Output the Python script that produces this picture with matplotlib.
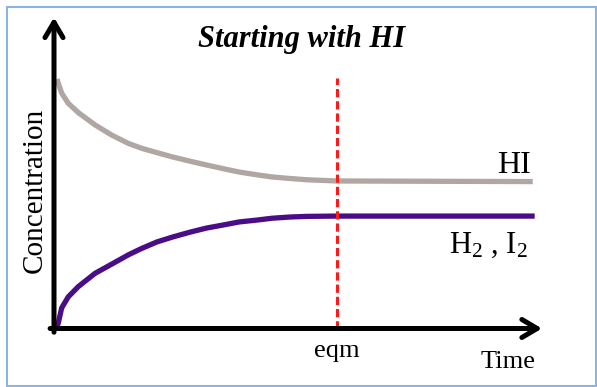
import matplotlib
matplotlib.use('Agg')
import matplotlib.pyplot as plt
from matplotlib.patches import Rectangle

plt.rcParams['font.family'] = ['Liberation Serif', 'DejaVu Serif']
plt.rcParams['mathtext.fontset'] = 'custom'
plt.rcParams['mathtext.rm'] = 'Liberation Serif'
plt.rcParams['mathtext.it'] = 'Liberation Serif:italic'

# values (time in arbitrary units, concentration 0..1)
hi_t = [0.06, 0.088, 0.157, 0.292, 0.496, 0.837, 1.178, 1.516, 1.79, 2.10,
        2.42, 2.78, 3.11, 3.45, 3.78, 4.14, 4.45, 4.82, 5.15, 5.77, 9.77]
hi_c = [0.810, 0.796, 0.764, 0.731, 0.701, 0.661, 0.628, 0.601, 0.585, 0.571,
        0.557, 0.543, 0.531, 0.519, 0.508, 0.499, 0.492, 0.487, 0.483, 0.479,
        0.477]

h2_t = [0.06, 0.088, 0.157, 0.292, 0.496, 0.837, 1.178, 1.516, 1.79, 2.10,
        2.42, 2.78, 3.11, 3.45, 3.78, 4.14, 4.45, 4.82, 5.15, 5.77, 9.81]
h2_c = [0.005, 0.018, 0.067, 0.103, 0.136, 0.179, 0.209, 0.239, 0.260, 0.281,
        0.297, 0.313, 0.326, 0.336, 0.346, 0.352, 0.358, 0.362, 0.364, 0.365,
        0.365]

t_eqm = 5.77
eqm_top = 0.813

fig = plt.figure(figsize=(5.97, 3.87), dpi=100)
fig.patches.append(Rectangle((7 / 597, 1 - 386 / 387), 589 / 597, 379 / 387,
                             transform=fig.transFigure, fill=False,
                             edgecolor='#8db3e2', lw=1.5))

ax = fig.add_axes([54 / 597, 1 - 328.5 / 387, 490 / 597, 308 / 387])
ax.set_xlim(0, 10)
ax.set_ylim(0, 1)
ax.axis('off')

ax.plot(hi_t, hi_c, color='#b0a6a2', lw=3.8, solid_capstyle='butt',
        solid_joinstyle='round', zorder=2)
ax.plot(h2_t, h2_c, color='#4b0c87', lw=3.8, solid_capstyle='butt',
        solid_joinstyle='round', zorder=2)
ax.vlines(t_eqm, 0, eqm_top, colors='#ff1a1a', lw=2.2,
          linestyles=(0, (2.7, 1.3)), zorder=3)

arrow = dict(arrowstyle='->,head_length=1.1,head_width=0.65', lw=3.6,
             color='black', mutation_scale=10, shrinkA=0, shrinkB=0)
ax.annotate('', xy=(9.96, 0), xytext=(-0.08, 0), arrowprops=arrow,
            annotation_clip=False, zorder=4)
ax.annotate('', xy=(0, 1.01), xytext=(0, -0.012), arrowprops=arrow,
            annotation_clip=False, zorder=4)

ax.text(9.73, 0.505, 'HI', fontsize=23, ha='right', va='baseline')
ax.text(9.67, 0.245, 'H$_2$ , I$_2$', fontsize=22, ha='right', va='baseline')
ax.text(t_eqm, -0.0925, 'eqm', fontsize=19, ha='center', va='baseline',
        clip_on=False)
ax.text(8.71, -0.128, 'Time', fontsize=19, ha='left', va='baseline',
        clip_on=False)

fig.text(35 / 597, 1 - 190 / 387, 'Concentration', fontsize=21, rotation=90,
         ha='center', va='center')
fig.text(302 / 597, 1 - 47 / 387, 'Starting with HI', fontsize=22,
         fontweight='bold', fontstyle='italic', ha='center', va='baseline')

fig.savefig('out.png', dpi=100)
